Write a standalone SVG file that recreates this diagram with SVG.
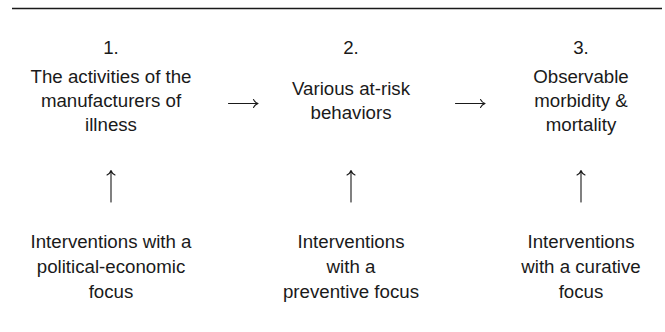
<svg xmlns="http://www.w3.org/2000/svg" width="665" height="332" viewBox="0 0 665 332">
<style>
  .t { font-family: "Liberation Sans", Arial, sans-serif; font-size: 18.7px; fill: #1a1a1a; text-anchor: middle; }
  .c { stroke: #1a1a1a; stroke-width: 1.1; fill: none; stroke-linecap: round; stroke-linejoin: round; }
</style>
<rect width="665" height="332" fill="#ffffff"/>
<line x1="12" y1="8.5" x2="662" y2="8.5" stroke="#1a1a1a" stroke-width="1.4"/>
<g id="n1">
  <text class="t" x="111" y="54">1.</text>
  <text class="t" x="111" y="82.5">The activities of the</text>
  <text class="t" x="111" y="106.5">manufacturers of</text>
  <text class="t" x="111" y="130.5">illness</text>
</g>
<g id="n2">
  <text class="t" x="351" y="54">2.</text>
  <text class="t" x="351" y="94.5">Various at-risk</text>
  <text class="t" x="351" y="118.5">behaviors</text>
</g>
<g id="n3">
  <text class="t" x="581" y="54">3.</text>
  <text class="t" x="581" y="82.5">Observable</text>
  <text class="t" x="581" y="106.5">morbidity &amp;</text>
  <text class="t" x="581" y="130.5">mortality</text>
</g>
<g id="i1">
  <text class="t" x="111" y="248">Interventions with a</text>
  <text class="t" x="111" y="273">political-economic</text>
  <text class="t" x="111" y="298">focus</text>
</g>
<g id="i2">
  <text class="t" x="351" y="248">Interventions</text>
  <text class="t" x="351" y="273">with a</text>
  <text class="t" x="351" y="298">preventive focus</text>
</g>
<g id="i3">
  <text class="t" x="581" y="248">Interventions</text>
  <text class="t" x="581" y="273">with a curative</text>
  <text class="t" x="581" y="298">focus</text>
</g>
<g id="connectors">
  <path class="c" d="M228.5 103.5 H257.5 M253.5 99.5 Q255 102.5 258 103.5 Q255 104.5 253.5 107.5"/>
  <path class="c" d="M455.5 103.5 H484.5 M480.5 99.5 Q482 102.5 485 103.5 Q482 104.5 480.5 107.5"/>
  <path class="c" d="M111 202 V171 M107 175 Q110 173.5 111 170.5 Q112 173.5 115 175"/>
  <path class="c" d="M351 202 V171 M347 175 Q350 173.5 351 170.5 Q352 173.5 355 175"/>
  <path class="c" d="M581 202 V171 M577 175 Q580 173.5 581 170.5 Q582 173.5 585 175"/>
</g>
</svg>
